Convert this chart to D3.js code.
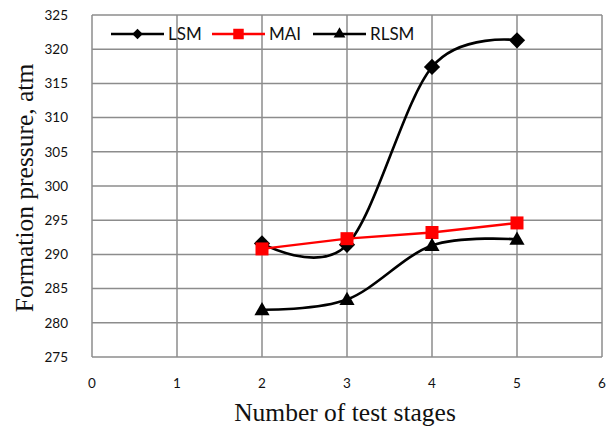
<!DOCTYPE html>
<html><head><meta charset="utf-8">
<script src="https://cdn.jsdelivr.net/npm/d3@7"></script>
<style>body{margin:0;background:#fff}</style>
</head><body>
<script>
const stages = [2, 3, 4, 5];
const lsm = [291.6, 291.4, 317.4, 321.3];
const mai = [290.8, 292.3, 293.2, 294.6];
const rlsm = [281.9, 283.4, 291.3, 292.2];
const xTicks = [0, 1, 2, 3, 4, 5, 6];
const yTicks = [275, 280, 285, 290, 295, 300, 305, 310, 315, 320, 325];
const seriesNames = ["LSM", "MAI", "RLSM"];

const W = 614, H = 430;
const m = {l: 92, r: 12, t: 15, b: 73};
const svg = d3.select("body").append("svg").attr("width", W).attr("height", H);
const x = d3.scaleLinear().domain([0, 6]).range([m.l, W - m.r]);
const y = d3.scaleLinear().domain([275, 325]).range([H - m.b, m.t]);
const grid = "#8c8c8c";

svg.append("g").selectAll("line").data(yTicks).join("line")
  .attr("x1", m.l).attr("x2", W - m.r).attr("y1", d => y(d)).attr("y2", d => y(d))
  .attr("stroke", grid).attr("stroke-width", 1.5);
svg.append("g").selectAll("line").data(xTicks).join("line")
  .attr("x1", d => x(d)).attr("x2", d => x(d)).attr("y1", m.t).attr("y2", H - m.b)
  .attr("stroke", grid).attr("stroke-width", 1.5);

const tickFont = "Lato, 'Open Sans', sans-serif";
svg.append("g").selectAll("text").data(yTicks).join("text")
  .attr("x", m.l - 24).attr("y", d => y(d)).attr("dy", "0.35em")
  .attr("text-anchor", "end").attr("font-family", tickFont).attr("font-size", 13.5)
  .attr("fill", "#111").text(d => d);
svg.append("g").selectAll("text").data(xTicks).join("text")
  .attr("x", d => x(d)).attr("y", H - m.b + 26).attr("dy", "0.35em")
  .attr("text-anchor", "middle").attr("font-family", tickFont).attr("font-size", 13.5)
  .attr("fill", "#111").text(d => d);

svg.append("text").attr("x", (m.l + W - m.r) / 2 - 2).attr("y", 421)
  .attr("text-anchor", "middle").attr("font-family", "'Liberation Serif', serif")
  .attr("font-size", 25.5).attr("fill", "#111").text("Number of test stages");
svg.append("text").attr("transform", `translate(33,${(m.t + H - m.b) / 2 + 2}) rotate(-90)`)
  .attr("text-anchor", "middle").attr("font-family", "'Liberation Serif', serif")
  .attr("font-size", 25.5).attr("fill", "#111").text("Formation pressure, atm");

const curve = d3.curveCardinal.tension(0);
const data = [lsm, mai, rlsm];
const colors = ["#000", "#ff0000", "#000"];
const curves = [curve, d3.curveLinear, curve];
const symbols = [d3.symbolSquare, d3.symbolSquare, d3.symbolTriangle];
const sizes = [132, 169, 100];
const rot = [45, 0, 0];
const widths = [2.6, 2.4, 2.6];

data.forEach((vals, i) => {
  const pts = stages.map((s, j) => [s, vals[j]]);
  svg.append("path").datum(pts)
    .attr("d", d3.line().x(d => x(d[0])).y(d => y(d[1])).curve(curves[i]))
    .attr("fill", "none").attr("stroke", colors[i]).attr("stroke-width", widths[i]);
});
data.forEach((vals, i) => {
  const sym = d3.symbol().type(symbols[i]).size(sizes[i]);
  svg.append("g").selectAll("path").data(stages.map((s, j) => [s, vals[j]])).join("path")
    .attr("d", sym)
    .attr("transform", d => `translate(${x(d[0])},${y(d[1]) + (i === 2 ? 1 : 0)}) rotate(${rot[i]})`)
    .attr("fill", colors[i]);
});

const lx = [111, 212, 313];
const lsizes = [55, 110, 60];
seriesNames.forEach((n, i) => {
  const g = svg.append("g").attr("transform", `translate(${lx[i]},34)`);
  g.append("line").attr("x1", 0).attr("x2", 53).attr("stroke", colors[i]).attr("stroke-width", 2.3);
  g.append("path").attr("d", d3.symbol().type(symbols[i]).size(lsizes[i])())
    .attr("transform", `translate(26.5,0) rotate(${rot[i]})`).attr("fill", colors[i]);
  g.append("text").attr("x", 57).attr("dy", "0.35em").attr("font-family", tickFont)
    .attr("font-size", 17).attr("fill", "#111").text(n);
});
</script>
</body></html>
